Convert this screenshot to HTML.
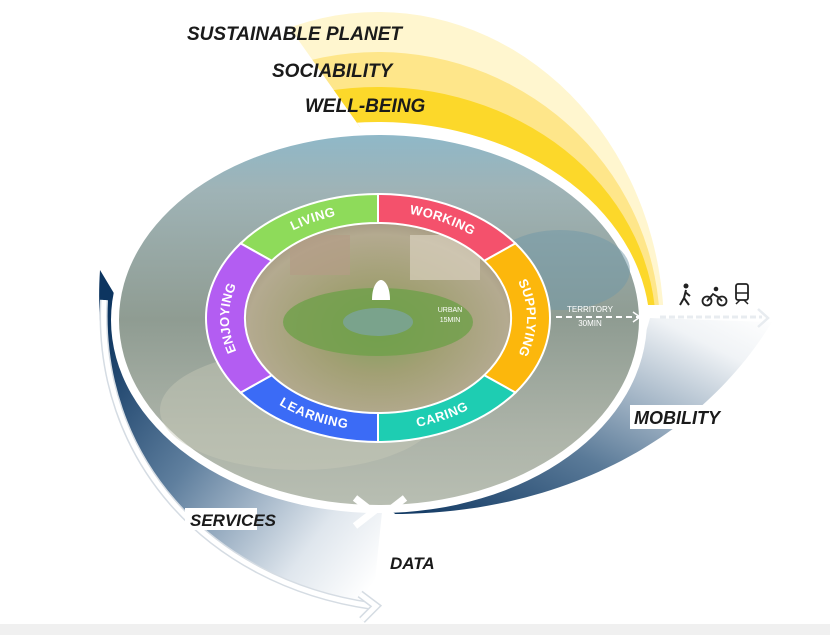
<!DOCTYPE html>
<html><head><meta charset="utf-8"><style>
html,body{margin:0;padding:0;background:#fff;}
svg{display:block;}
.lbl{font-family:"Liberation Sans",sans-serif;font-weight:bold;font-style:italic;fill:#1a1a1a;}
.seg{font-family:"Liberation Sans",sans-serif;font-weight:bold;fill:#fff;font-size:13px;letter-spacing:0.5px;}
</style></head><body>
<svg width="830" height="635" viewBox="0 0 830 635" xmlns="http://www.w3.org/2000/svg">
<defs>
<clipPath id="yclip"><polygon points="270,0 830,0 830,305 486,305"/></clipPath>
<linearGradient id="lb" x1="0" y1="0.2" x2="0.9" y2="1">
<stop offset="0" stop-color="#0d3560"/><stop offset="0.4" stop-color="#5f7f9e"/><stop offset="0.8" stop-color="#dfe6ed"/><stop offset="1" stop-color="#fff"/></linearGradient>
<linearGradient id="rb" x1="0" y1="1" x2="1" y2="0">
<stop offset="0" stop-color="#0d3560"/><stop offset="0.4" stop-color="#5a7a98"/><stop offset="0.85" stop-color="#f0f3f6"/><stop offset="1" stop-color="#fff"/></linearGradient>
<linearGradient id="photo" x1="0" y1="0" x2="0" y2="1">
<stop offset="0" stop-color="#8fb8c8"/><stop offset="0.15" stop-color="#9fb3b6"/><stop offset="0.5" stop-color="#8f9c92"/><stop offset="0.8" stop-color="#acb3a8"/><stop offset="1" stop-color="#b8beb2"/></linearGradient>
<radialGradient id="inner" cx="0.5" cy="0.55" r="0.6">
<stop offset="0" stop-color="#7fa05a"/><stop offset="0.4" stop-color="#a2a074"/><stop offset="0.8" stop-color="#b4aa90"/><stop offset="1" stop-color="#9a8d78"/></radialGradient>
<path id="pLiving" d="M256.6,252.1 A152,109.5 0 0 1 378,208.5"/>
<path id="pWorking" d="M378,208.5 A152,109.5 0 0 1 499.4,252.1"/>
<path id="pSupp" d="M499.4,252.1 A152,109.5 0 0 1 499.4,383.9"/>
<path id="pCaring" d="M378,427.5 A152,109.5 0 0 0 499.4,383.9"/>
<path id="pLearn" d="M256.6,383.9 A152,109.5 0 0 0 378,427.5"/>
<path id="pEnjoy" d="M256.6,383.9 A152,109.5 0 0 1 256.6,252.1"/>
</defs>
<rect x="0" y="624" width="830" height="11" fill="#f0f0f0"/>
<g clip-path="url(#yclip)">
<ellipse cx="378" cy="330" rx="286" ry="318" fill="#fff6cf"/>
<ellipse cx="378" cy="330" rx="282" ry="278" fill="#fee68a"/>
<ellipse cx="378" cy="330" rx="278" ry="243" fill="#fcd82a"/>
<ellipse cx="378" cy="330" rx="272" ry="208" fill="#fff"/>
</g>
<path d="M100,270 C88,450 200,584 372,610 L382,512 C250,505 140,420 118,300 Z" fill="url(#lb)"/>
<path d="M104,300 C96,455 205,582 372,606" fill="none" stroke="#d5dce3" stroke-width="8"/>
<path d="M104,300 C96,455 205,582 372,606" fill="none" stroke="#fff" stroke-width="5"/>
<path d="M360,594 L376,606 L362,620" fill="none" stroke="#d5dce3" stroke-width="8"/>
<path d="M360,594 L376,606 L362,620" fill="none" stroke="#fff" stroke-width="5"/>
<path d="M385,514 C560,516 700,440 772,322 L650,318 C620,430 520,505 385,512 Z" fill="url(#rb)"/>
<ellipse cx="379" cy="320" rx="268" ry="193" fill="#fff"/>
<ellipse cx="379" cy="320" rx="260" ry="185" fill="url(#photo)"/>
<ellipse cx="300" cy="410" rx="140" ry="60" fill="#c7cab8" opacity="0.45"/>
<ellipse cx="560" cy="270" rx="70" ry="40" fill="#6f98a8" opacity="0.5"/>
<ellipse cx="378" cy="318" rx="135" ry="97" fill="url(#inner)"/>
<ellipse cx="378" cy="322" rx="95" ry="34" fill="#6fa04a" opacity="0.8"/>
<ellipse cx="378" cy="322" rx="35" ry="14" fill="#7aa38c"/>
<rect x="290" y="235" width="60" height="40" fill="#b39d86" opacity="0.7"/>
<rect x="410" y="235" width="70" height="45" fill="#d8d0bd" opacity="0.7"/>
<g stroke="#fff" stroke-width="2">
<path d="M240.6,243.4 A172,124 0 0 1 378,194 L378,223 A133,95 0 0 0 271.7,260.8 Z" fill="#8edb5a"/>
<path d="M378,194 A172,124 0 0 1 515.4,243.4 L484.3,260.8 A133,95 0 0 0 378,223 Z" fill="#f4516c"/>
<path d="M515.4,243.4 A172,124 0 0 1 515.4,392.6 L484.3,375.2 A133,95 0 0 0 484.3,260.8 Z" fill="#fcb70c"/>
<path d="M515.4,392.6 A172,124 0 0 1 378,442 L378,413 A133,95 0 0 0 484.3,375.2 Z" fill="#1ecdb2"/>
<path d="M378,442 A172,124 0 0 1 240.6,392.6 L271.7,375.2 A133,95 0 0 0 378,413 Z" fill="#3b6bf6"/>
<path d="M240.6,392.6 A172,124 0 0 1 240.6,243.4 L271.7,260.8 A133,95 0 0 0 271.7,375.2 Z" fill="#b35df2"/>
</g>
<g class="seg" dominant-baseline="middle" text-anchor="middle">
<text><textPath href="#pLiving" startOffset="50%">LIVING</textPath></text>
<text><textPath href="#pWorking" startOffset="50%">WORKING</textPath></text>
<text><textPath href="#pSupp" startOffset="50%">SUPPLYING</textPath></text>
<text><textPath href="#pCaring" startOffset="50%">CARING</textPath></text>
<text><textPath href="#pLearn" startOffset="50%">LEARNING</textPath></text>
<text><textPath href="#pEnjoy" startOffset="50%">ENJOYING</textPath></text>
</g>
<path d="M372,300 C372,285 378,280 381,280 C384,280 390,285 390,300 Z" fill="#fff"/>
<text x="450" y="312" font-family="Liberation Sans,sans-serif" font-size="7" fill="#fff" text-anchor="middle">URBAN</text>
<text x="450" y="322" font-family="Liberation Sans,sans-serif" font-size="7" fill="#fff" text-anchor="middle">15MIN</text>
<text x="590" y="312" font-family="Liberation Sans,sans-serif" font-size="8" fill="#fff" text-anchor="middle">TERRITORY</text>
<text x="590" y="326" font-family="Liberation Sans,sans-serif" font-size="8" fill="#fff" text-anchor="middle">30MIN</text>
<line x1="556" y1="317" x2="640" y2="317" stroke="#fff" stroke-width="2" stroke-dasharray="6,4"/>
<path d="M633,312 L640,317 L633,322" fill="none" stroke="#fff" stroke-width="1.5"/>
<line x1="660" y1="317" x2="762" y2="317" stroke="#e8ecf0" stroke-width="3" stroke-dasharray="6,3"/>
<path d="M758,309 L768,318 L758,327" fill="none" stroke="#e8ecf0" stroke-width="2.5"/>
<g fill="#222" stroke="#222">
<circle cx="686" cy="286" r="2.5" stroke="none"/>
<path d="M686,290 L684,298 L680,305 M684,298 L689,305 M685,292 L690,296" fill="none" stroke-width="2"/>
<circle cx="707" cy="301" r="4.5" fill="none" stroke-width="1.8"/>
<circle cx="722" cy="301" r="4.5" fill="none" stroke-width="1.8"/>
<circle cx="716" cy="289" r="2.3" stroke="none"/>
<path d="M707,301 L713,294 L718,297 L722,301" fill="none" stroke-width="1.8"/>
<rect x="736" y="284" width="12" height="16" rx="2" fill="none" stroke-width="1.8"/>
<line x1="736" y1="293" x2="748" y2="293" stroke-width="1.5"/>
<path d="M736,304 L740,300 M748,304 L744,300" stroke-width="1.5"/>
</g>
<path d="M355,498 L373,512 L355,526" fill="none" stroke="#fff" stroke-width="7"/>
<path d="M405,498 L387,512 L405,526" fill="none" stroke="#fff" stroke-width="7"/>
<text class="lbl" x="187" y="40" font-size="19">SUSTAINABLE PLANET</text>
<text class="lbl" x="272" y="77" font-size="19">SOCIABILITY</text>
<text class="lbl" x="305" y="112" font-size="19">WELL-BEING</text>
<rect x="630" y="405" width="94" height="24" fill="#fff"/>
<text class="lbl" x="634" y="424" font-size="18">MOBILITY</text>
<rect x="185" y="508" width="72" height="22" fill="#fff"/>
<text class="lbl" x="190" y="526" font-size="17">SERVICES</text>
<text class="lbl" x="390" y="569" font-size="17">DATA</text>
</svg>
</body></html>
